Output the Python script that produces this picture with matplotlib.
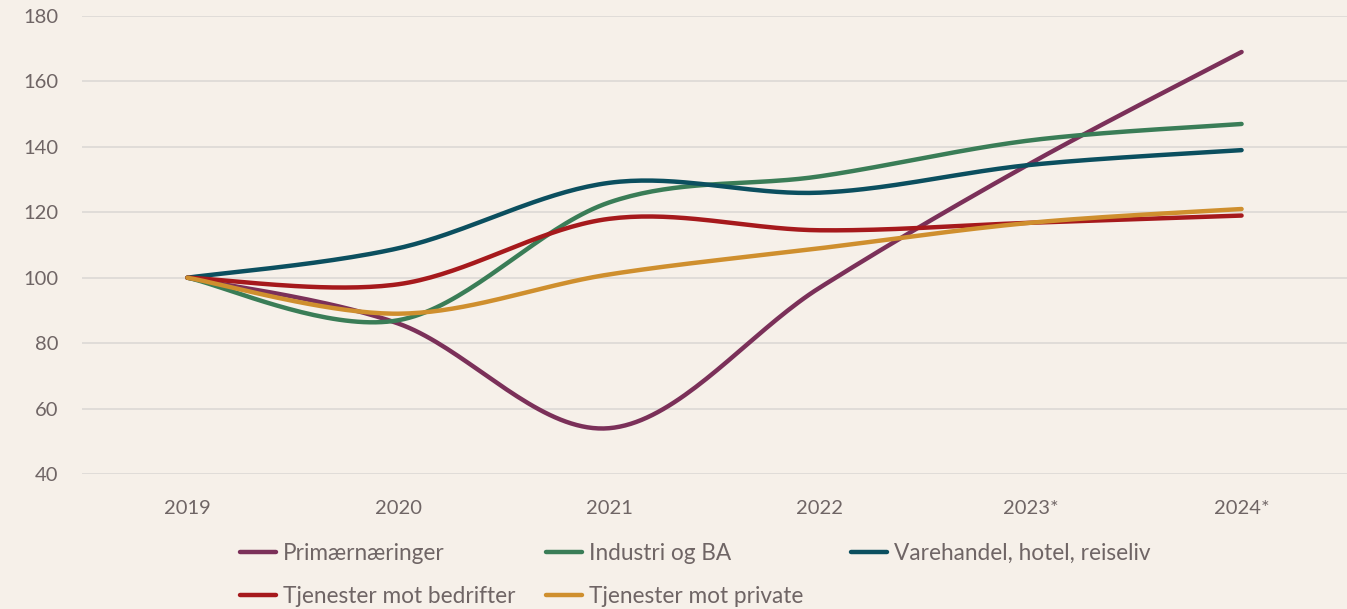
import numpy as np
import matplotlib.pyplot as plt

years = ['2019', '2020', '2021', '2022', '2023*', '2024*']
primaer = [100, 86, 54, 97, 135, 169]
industri = [100, 87, 123, 131, 142, 147]
varehandel = [100, 109, 129, 126, 134.5, 139]
tjen_bedrift = [100, 98, 118, 114.5, 116.8, 119]
tjen_private = [100, 89, 101, 109, 116.8, 121]

series = [
    ('Primærnæringer', primaer, '#7B3059'),
    ('Industri og BA', industri, '#3A7D57'),
    ('Varehandel, hotel, reiseliv', varehandel, '#0B4F5F'),
    ('Tjenester mot bedrifter', tjen_bedrift, '#A6191C'),
    ('Tjenester mot private', tjen_private, '#CF8F2E'),
]

bg = '#F6F0E9'
txt = '#6F6565'

def smooth(y, n=40):
    # Excel-like smoothed line (Catmull-Rom as cubic bezier)
    y = np.asarray(y, float)
    x = np.arange(len(y), dtype=float)
    px = np.concatenate([[x[0]], x, [x[-1]]])
    py = np.concatenate([[y[0]], y, [y[-1]]])
    xs, ys = [], []
    t = np.linspace(0, 1, n)
    for i in range(1, len(px) - 2):
        p0 = np.array([px[i], py[i]])
        p3 = np.array([px[i + 1], py[i + 1]])
        p1 = p0 + (np.array([px[i + 1], py[i + 1]]) - np.array([px[i - 1], py[i - 1]])) / 6
        p2 = p3 - (np.array([px[i + 2], py[i + 2]]) - np.array([px[i], py[i]])) / 6
        b = ((1 - t) ** 3)[:, None] * p0 + (3 * (1 - t) ** 2 * t)[:, None] * p1 \
            + (3 * (1 - t) * t ** 2)[:, None] * p2 + (t ** 3)[:, None] * p3
        xs.append(b[:, 0]); ys.append(b[:, 1])
    return np.concatenate(xs), np.concatenate(ys)

plt.rcParams['font.family'] = ['Lato', 'DejaVu Sans']

fig = plt.figure(figsize=(13.47, 6.09), dpi=100, facecolor=bg)
ax = fig.add_axes([82 / 1347, 1 - 474 / 609, 1 - 82 / 1347, (474 - 16) / 609])
ax.set_facecolor(bg)

handles = []
for name, vals, col in series:
    sx, sy = smooth(vals)
    h, = ax.plot(sx, sy, color=col, lw=3.2, label=name, solid_capstyle='round')
    handles.append(h)

ax.set_xlim(-0.5, len(years) - 0.5)
ax.set_ylim(40, 180)
ax.set_yticks(range(40, 181, 20))
ax.set_xticks(range(len(years)))
ax.set_xticklabels(years)
ax.grid(axis='y', color='#DCD8D5', lw=1.2)
ax.set_axisbelow(True)
for s in ax.spines.values():
    s.set_visible(False)
ax.tick_params(length=0, colors=txt, labelsize=14.5)
ax.tick_params(axis='x', pad=19)
ax.tick_params(axis='y', pad=17)

# legend: three columns laid out row by row
cols = [[0, 3], [1, 4], [2]]
col_x = [240, 546, 851]
for idx, x0 in zip(cols, col_x):
    fig.legend([handles[i] for i in idx], [series[i][0] for i in idx], loc='upper left',
               bbox_to_anchor=(x0 / 1347, 1 - 543 / 609), frameon=False, fontsize=16.3,
               labelcolor=txt, handlelength=1.6, handletextpad=0.3, labelspacing=0.95,
               borderpad=0, borderaxespad=0)

fig.savefig('out.png', dpi=100, facecolor=bg)
